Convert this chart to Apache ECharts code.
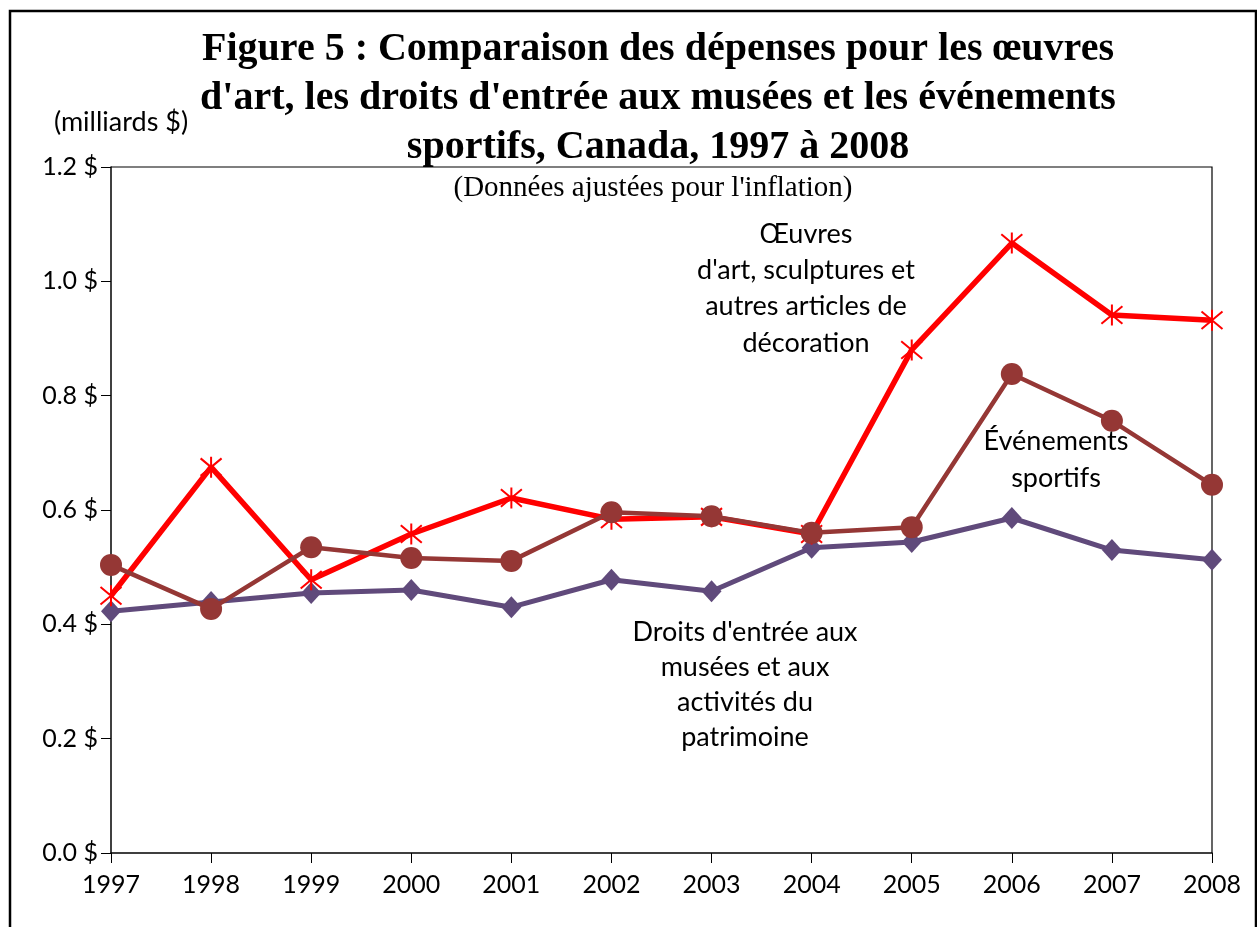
<!DOCTYPE html>
<html>
<head>
<meta charset="utf-8">
<style>
  html, body { margin: 0; padding: 0; background: #fff; }
  #chart { width: 1257px; height: 927px; }
</style>
<script src="https://cdn.jsdelivr.net/npm/echarts@6/dist/echarts.min.js"></script>
</head>
<body>
<div id="chart"></div>
<script>
// années et valeurs (milliards $, ajustées pour l'inflation)
const years = ['1997', '1998', '1999', '2000', '2001', '2002', '2003', '2004', '2005', '2006', '2007', '2008']
const oeuvres = [0.450, 0.675, 0.478, 0.558, 0.621, 0.584, 0.588, 0.558, 0.880, 1.067, 0.941, 0.932]
const sportifs = [0.504, 0.427, 0.535, 0.516, 0.511, 0.596, 0.589, 0.560, 0.570, 0.838, 0.756, 0.644]
const musees = [0.423, 0.439, 0.455, 0.460, 0.430, 0.478, 0.458, 0.534, 0.544, 0.586, 0.530, 0.513]
const yTicks = [0, 0.2, 0.4, 0.6, 0.8, 1.0, 1.2]

const sans = 'Lato, "Open Sans", sans-serif'
const serif = '"Liberation Serif", "DejaVu Serif", serif'

// astérisque : X + trait vertical
const starPath = 'path://M0,0L10,10M10,0L0,10M5,-1L5,11'

const chart = echarts.init(document.getElementById('chart'))

// texte centré sur (x, y)
function centered(text, x, y, font) {
  return {
    type: 'text', x: x, y: y, z: 10,
    style: { text: text, font: font, fill: '#000', align: 'center', verticalAlign: 'middle' }
  }
}

function note(lines, x, y, step) {
  return lines.map((t, i) => centered(t, x, y + i * step, '27px ' + sans))
}

chart.setOption({
  animation: false,
  title: {
    text: 'Figure 5 : Comparaison des dépenses pour les œuvres\nd\'art, les droits d\'entrée aux musées et les événements\nsportifs, Canada, 1997 à 2008',
    left: 653,
    textAlign: 'center',
    top: 20,
    textStyle: { fontFamily: serif, fontWeight: 'bold', fontSize: 40, lineHeight: 49, color: '#000' }
  },
  grid: { left: 111, right: 45, top: 167, bottom: 74 },
  xAxis: {
    type: 'category',
    data: years,
    boundaryGap: false,
    axisLine: { lineStyle: { color: '#000', width: 1.5 } },
    axisTick: { show: true, length: 10, lineStyle: { color: '#000' } },
    axisLabel: { fontFamily: sans, fontSize: 25, color: '#000', margin: 19, interval: 0 }
  },
  yAxis: {
    type: 'value',
    min: 0, max: 1.2, interval: 0.2,
    axisLine: { show: true, lineStyle: { color: '#000', width: 1.5 } },
    axisTick: { show: true, length: 10, lineStyle: { color: '#000' } },
    splitLine: { show: false },
    axisLabel: {
      fontFamily: sans, fontSize: 25, color: '#000', margin: 13,
      formatter: v => yTicks.includes(Math.round(v * 10) / 10) ? v.toFixed(1) + ' $' : ''
    }
  },
  series: [
    {
      name: 'Droits d\'entrée aux musées et aux activités du patrimoine',
      type: 'line',
      data: musees,
      symbol: 'diamond',
      symbolSize: [20, 22],
      lineStyle: { color: '#604A7B', width: 5 },
      itemStyle: { color: '#604A7B' },
      z: 2
    },
    {
      name: 'Événements sportifs',
      type: 'line',
      data: sportifs,
      symbol: 'circle',
      symbolSize: 22,
      lineStyle: { color: '#953735', width: 4.5 },
      itemStyle: { color: '#953735' },
      z: 4
    },
    {
      name: 'Œuvres d\'art, sculptures et autres articles de décoration',
      type: 'line',
      data: oeuvres,
      symbol: starPath,
      symbolSize: 21,
      lineStyle: { color: '#FF0000', width: 5.5 },
      itemStyle: { color: 'none', borderColor: '#FF0000', borderWidth: 2 },
      z: 3
    }
  ],
  graphic: [
    // cadre extérieur
    { type: 'polyline', shape: { points: [[10, 927], [10, 11], [1256, 11], [1256, 927]] },
      style: { stroke: '#000', lineWidth: 2.5, fill: 'none' }, z: 20 },
    // cadre du graphique (haut et droite)
    { type: 'polyline', shape: { points: [[111, 167], [1212, 167], [1212, 853]] },
      style: { stroke: '#000', lineWidth: 1.2, fill: 'none' }, z: 1 },
    centered('(milliards $)', 121, 122, '27px ' + sans),
    centered('(Données ajustées pour l\'inflation)', 653, 188, '29px ' + serif),
    ...note(['Œuvres', 'd\'art, sculptures et', 'autres articles de', 'décoration'], 806, 234, 36.3),
    ...note(['Événements', 'sportifs'], 1056, 441, 37),
    ...note(['Droits d\'entrée aux', 'musées et aux', 'activités du', 'patrimoine'], 745, 632, 35)
  ]
})
</script>
</body>
</html>
